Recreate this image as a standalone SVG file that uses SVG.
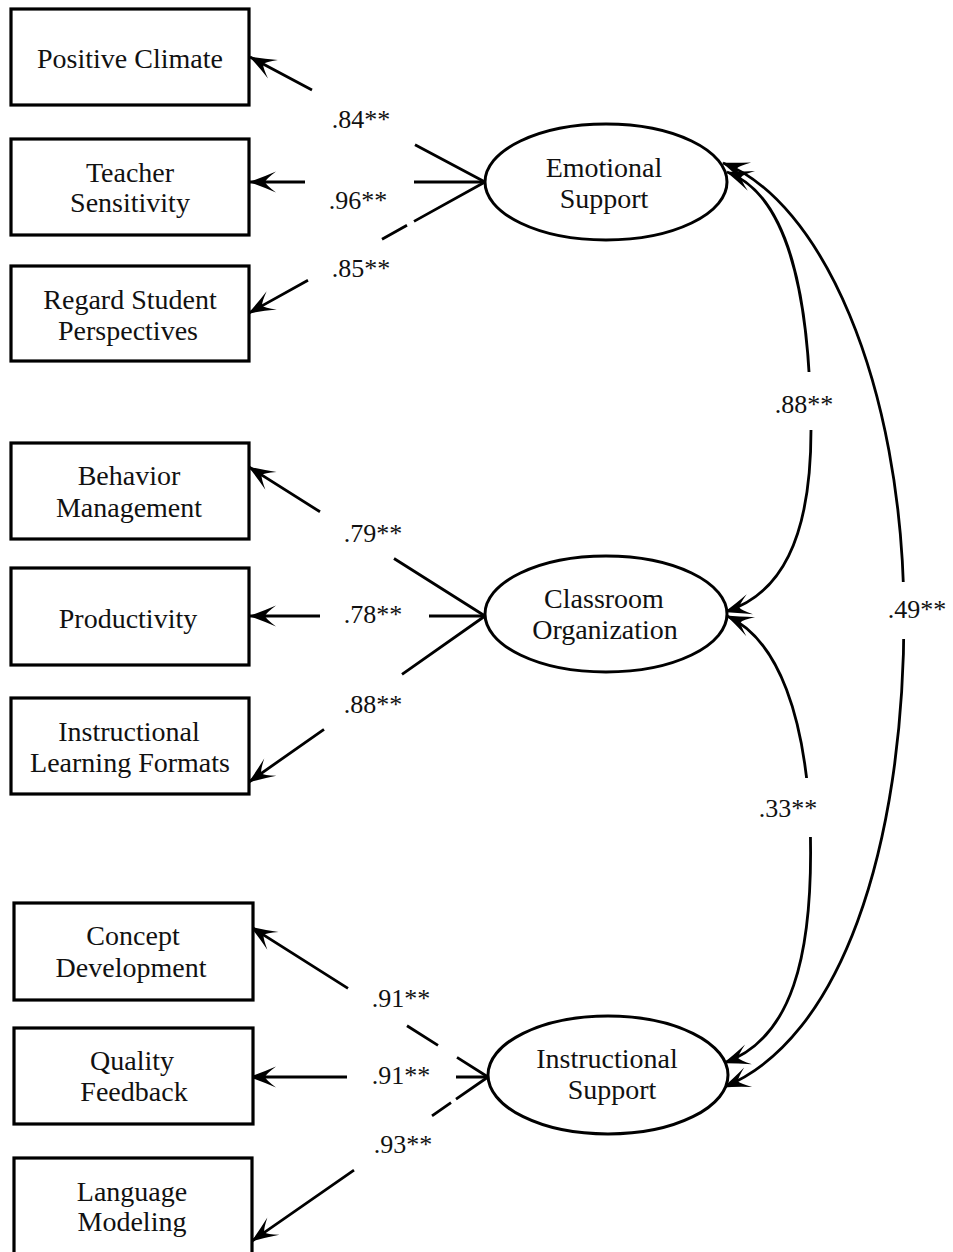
<svg xmlns="http://www.w3.org/2000/svg" width="953" height="1252" viewBox="0 0 953 1252">
<style>
.box{fill:#fff;stroke:#000;stroke-width:3.2}
.lat{fill:#fff;stroke:#000;stroke-width:3}
.ln{fill:none;stroke:#000;stroke-width:2.8}
.t{font-family:"Liberation Serif","Times New Roman",serif;font-size:28px;fill:#111;text-anchor:middle}
.lb{font-family:"Liberation Serif","Times New Roman",serif;font-size:26px;fill:#111;text-anchor:middle}
.gap{fill:#fff;stroke:none}
</style>
<defs>
<marker id="ah" markerUnits="userSpaceOnUse" viewBox="-28 -12 30 24" refX="0" refY="0" markerWidth="30" markerHeight="24" orient="auto">
<path d="M1,0 Q-11,-4 -26,-10.5 Q-16,-3 -15,0 Q-16,3 -26,10.5 Q-11,4 1,0 Z" fill="#000"/>
</marker>
<marker id="ahs" markerUnits="userSpaceOnUse" viewBox="-28 -12 30 24" refX="0" refY="0" markerWidth="30" markerHeight="24" orient="auto-start-reverse">
<path d="M1,0 Q-11,-4 -26,-10.5 Q-16,-3 -15,0 Q-16,3 -26,10.5 Q-11,4 1,0 Z" fill="#000"/>
</marker>
</defs>

<g id="connectors">
<path class="ln" d="M485,182 L415,144.8 M312,90 L250,57" marker-end="url(#ah)"/>
<path class="ln" d="M485,182 L414,182 M305,182 L250,182" marker-end="url(#ah)"/>
<path class="ln" d="M485,182 L414,221.4 M407,225.3 L382,239.2 M308,280.3 L249,313" marker-end="url(#ah)"/>
<path class="ln" d="M485,616 L394,558.5 M320,511.8 L249,467" marker-end="url(#ah)"/>
<path class="ln" d="M485,616 L429,616 M320,616 L250,616" marker-end="url(#ah)"/>
<path class="ln" d="M485,616 L402,674.4 M324,729.3 L249,782" marker-end="url(#ah)"/>
<path class="ln" d="M488,1077 L457,1057.4 M438,1045.4 L407,1025.7 M348,988.4 L251,927" marker-end="url(#ah)"/>
<path class="ln" d="M488,1077 L456,1077 M347,1077 L250,1077" marker-end="url(#ah)"/>
<path class="ln" d="M488,1077 L456,1099.2 M451,1102.7 L432,1115.9 M354,1170.1 L252,1241" marker-end="url(#ah)"/>
<path class="ln" d="M727,172 C790,195 810,300 811,430 C811,540 780,595 725,612" marker-start="url(#ahs)" marker-end="url(#ah)"/>
<path class="ln" d="M727,616 C780,640 805,720 810,820 C815,960 790,1040 724,1063" marker-start="url(#ahs)" marker-end="url(#ah)"/>
<path class="ln" d="M723,163 C820,200 903,380 904,615 C904,850 840,1040 724,1087" marker-start="url(#ahs)" marker-end="url(#ah)"/>
</g>

<g id="labels">
<text class="lb" x="361" y="128">.84**</text>
<text class="lb" x="358" y="209">.96**</text>
<text class="lb" x="361" y="277">.85**</text>
<text class="lb" x="373" y="542">.79**</text>
<text class="lb" x="373" y="623">.78**</text>
<text class="lb" x="373" y="713">.88**</text>
<text class="lb" x="401" y="1007">.91**</text>
<text class="lb" x="401" y="1084">.91**</text>
<text class="lb" x="403" y="1153">.93**</text>
<rect class="gap" x="776" y="372" width="62" height="58"/>
<text class="lb" x="804" y="413">.88**</text>
<rect class="gap" x="759" y="778" width="62" height="59"/>
<text class="lb" x="788" y="817">.33**</text>
<rect class="gap" x="886" y="582" width="64" height="57"/>
<text class="lb" x="917" y="618">.49**</text>
</g>

<g id="positive-climate"><rect class="box" x="11" y="9" width="238" height="96"/><text class="t" x="130" y="68">Positive Climate</text></g>
<g id="teacher-sensitivity"><rect class="box" x="11" y="139" width="238" height="96"/><text class="t" x="130" y="182">Teacher</text><text class="t" x="130" y="212">Sensitivity</text></g>
<g id="regard-student-perspectives"><rect class="box" x="11" y="266" width="238" height="95"/><text class="t" x="130" y="309">Regard Student</text><text class="t" x="128" y="340">Perspectives</text></g>

<g id="behavior-management"><rect class="box" x="11" y="443" width="238" height="96"/><text class="t" x="129" y="485">Behavior</text><text class="t" x="129" y="517">Management</text></g>
<g id="productivity"><rect class="box" x="11" y="568" width="238" height="97"/><text class="t" x="128" y="628">Productivity</text></g>
<g id="instructional-learning-formats"><rect class="box" x="11" y="698" width="238" height="96"/><text class="t" x="129" y="741">Instructional</text><text class="t" x="130" y="772">Learning Formats</text></g>

<g id="concept-development"><rect class="box" x="14" y="903" width="239" height="97"/><text class="t" x="133" y="945">Concept</text><text class="t" x="131" y="977">Development</text></g>
<g id="quality-feedback"><rect class="box" x="14" y="1028" width="239" height="96"/><text class="t" x="132" y="1070">Quality</text><text class="t" x="134" y="1101">Feedback</text></g>
<g id="language-modeling"><rect class="box" x="14" y="1158" width="238" height="100"/><text class="t" x="132" y="1201">Language</text><text class="t" x="132" y="1231">Modeling</text></g>

<g id="emotional-support"><ellipse class="lat" cx="606" cy="182" rx="121" ry="58"/><text class="t" x="604" y="177">Emotional</text><text class="t" x="604" y="208">Support</text></g>
<g id="classroom-organization"><ellipse class="lat" cx="606" cy="614" rx="121" ry="58"/><text class="t" x="604" y="608">Classroom</text><text class="t" x="605" y="639">Organization</text></g>
<g id="instructional-support"><ellipse class="lat" cx="608" cy="1075" rx="120" ry="59"/><text class="t" x="607" y="1068">Instructional</text><text class="t" x="612" y="1099">Support</text></g>
</svg>
